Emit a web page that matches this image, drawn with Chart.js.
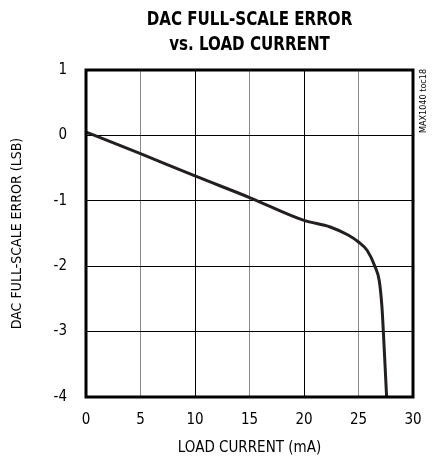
<!DOCTYPE html>
<html>
<head>
<meta charset="utf-8">
<script src="https://cdn.jsdelivr.net/npm/chart.js@4/dist/chart.umd.min.js"></script>
<style>
  html, body { margin: 0; padding: 0; background: #fff; }
  #wrap { width: 438px; height: 459px; }
</style>
</head>
<body>
<div id="wrap"><canvas id="errChart" width="438" height="459"></canvas></div>
<script>
// values
const loadCurrent = [0, 2, 5, 10, 15, 20, 22.4, 24, 25, 25.8, 26.5, 26.9, 27.15, 27.28, 27.43, 27.58];
const fullScaleError = [0.05, -0.08, -0.28, -0.62, -0.95, -1.30, -1.40, -1.52, -1.63, -1.76, -2.0, -2.22, -2.62, -3.0, -3.5, -4.0];
const xTicks = [0, 5, 10, 15, 20, 25, 30];
const yTicks = [-4, -3, -2, -1, 0, 1];

const titleLines = ['DAC FULL-SCALE ERROR', 'vs. LOAD CURRENT'];
const narrow = "'Liberation Sans Narrow', 'Arial Narrow', 'DejaVu Sans Condensed', sans-serif";

const points = loadCurrent.map((x, i) => ({ x: x, y: fullScaleError[i] }));

// title over the plot, frame and the side tag
const decor = {
  id: 'decor',
  afterDraw(chart) {
    const ctx = chart.ctx;
    const a = chart.chartArea;
    ctx.save();
    ctx.strokeStyle = '#000';
    ctx.lineWidth = 3;
    ctx.strokeRect(a.left, a.top, a.right - a.left, a.bottom - a.top);

    // title, squeezed to look condensed
    const cx = (a.left + a.right) / 2;
    ctx.save();
    ctx.translate(cx, 0);
    ctx.scale(0.84, 1);
    ctx.fillStyle = '#000';
    ctx.font = 'bold 20px ' + narrow;
    ctx.textAlign = 'center';
    ctx.textBaseline = 'alphabetic';
    ctx.fillText(titleLines[0], 0, 25);
    ctx.fillText(titleLines[1], 0, 50);
    ctx.restore();

    ctx.translate(424, 133);
    ctx.rotate(-Math.PI / 2);
    ctx.fillStyle = '#000';
    ctx.font = '9px ' + narrow;
    ctx.textAlign = 'left';
    ctx.textBaseline = 'middle';
    ctx.fillText('MAX1040 toc18', 0, 0);
    ctx.restore();
  }
};

new Chart(document.getElementById('errChart'), {
  type: 'line',
  data: {
    datasets: [{
      data: points,
      borderColor: '#231f20',
      borderWidth: 3,
      pointRadius: 0,
      cubicInterpolationMode: 'monotone',
      fill: false
    }]
  },
  options: {
    responsive: false,
    animation: false,
    layout: { padding: { top: 70, right: 25, left: 5, bottom: 2 } },
    plugins: {
      legend: { display: false },
      tooltip: { enabled: false },
      title: { display: false }
    },
    scales: {
      x: {
        type: 'linear',
        min: 0,
        max: 30,
        afterBuildTicks: (s) => { s.ticks = xTicks.map(v => ({ value: v })); },
        afterFit: (s) => { s.height = 60; },
        border: { display: false },
        grid: {
          drawTicks: false,
          lineWidth: 1,
          color: (c) => (c.tick && (c.tick.value === 10 || c.tick.value === 20)) ? '#000' : '#8a8a8a'
        },
        ticks: { color: '#000', padding: 14, font: { family: narrow, size: 15 } },
        title: {
          display: true,
          text: 'LOAD CURRENT (mA)',
          color: '#000',
          padding: { top: 10, bottom: 0 },
          font: { family: narrow, size: 15 }
        }
      },
      y: {
        min: -4,
        max: 1,
        afterBuildTicks: (s) => { s.ticks = yTicks.map(v => ({ value: v })); },
        afterFit: (s) => { s.width = 81; },
        border: { display: false },
        grid: { drawTicks: false, lineWidth: 1, color: '#000' },
        ticks: { color: '#000', padding: 19, font: { family: narrow, size: 15 } },
        title: {
          display: true,
          text: 'DAC FULL-SCALE ERROR (LSB)',
          color: '#000',
          padding: { top: 4, bottom: 4 },
          font: { family: narrow, size: 14 }
        }
      }
    }
  },
  plugins: [decor]
});
</script>
</body>
</html>
